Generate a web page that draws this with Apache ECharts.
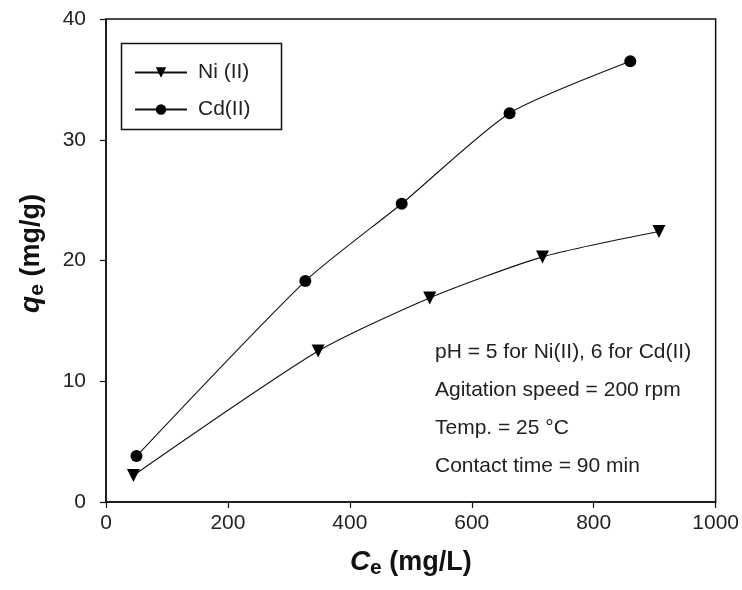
<!DOCTYPE html>
<html>
<head>
<meta charset="utf-8">
<script src="https://cdn.jsdelivr.net/npm/echarts@6/dist/echarts.min.js"></script>
<style>
  html, body { margin: 0; padding: 0; background: #fff; }
  #chart { width: 742px; height: 590px; }
</style>
</head>
<body>
<div id="chart"></div>
<script>
// Ni(II) isotherm points (Ce mg/L, qe mg/g)
var niCe = [45, 348, 531, 716, 907]
var niQe = [2.2, 12.5, 16.9, 20.3, 22.4]
// Cd(II) isotherm points
var cdCe = [50, 327, 485, 662, 860]
var cdQe = [3.8, 18.3, 24.7, 32.2, 36.5]

var xTicks = [0, 200, 400, 600, 800, 1000]
var yTicks = [0, 10, 20, 30, 40]

var notes = [
  'pH = 5 for Ni(II), 6 for Cd(II)',
  'Agitation speed = 200 rpm',
  'Temp. = 25 °C',
  'Contact time = 90 min',
]

function pairs(xs, ys) {
  return xs.map(function (x, i) {
    return [x, ys[i]]
  })
}

var FONT = '"Liberation Sans", Arial, sans-serif'
var chart = echarts.init(document.getElementById('chart'))

var nameRich = {
  it: { fontSize: 28, fontStyle: 'italic', fontWeight: 'bold', color: '#111', fontFamily: FONT },
  sub: { fontSize: 21, fontWeight: 'bold', color: '#111', fontFamily: FONT, padding: [12, 0, 0, 0] },
  b: { fontSize: 27, fontWeight: 'bold', color: '#111', fontFamily: FONT },
}

var option = {
  backgroundColor: '#fff',
  animation: false,
  textStyle: { fontFamily: FONT },
  grid: {
    left: 106,
    right: 22,
    top: 19,
    bottom: 88,
    show: true,
    borderColor: '#111',
    borderWidth: 1.5,
  },
  legend: {
    left: 129,
    top: 57,
    orient: 'vertical',
    itemWidth: 52,
    itemHeight: 13,
    itemGap: 16,
    textStyle: { fontSize: 21, color: '#222', fontFamily: FONT, padding: [0, 0, 0, 6] },
    data: ['Ni (II)', 'Cd(II)'],
  },
  xAxis: {
    type: 'value',
    min: 0,
    max: 1000,
    interval: 200,
    name: '{it|C}{sub|e}{b| (mg/L)}',
    nameLocation: 'middle',
    nameGap: 44,
    nameTextStyle: { rich: nameRich },
    axisLine: { lineStyle: { color: '#111', width: 1.5 } },
    axisTick: { inside: false, length: 6, lineStyle: { color: '#111', width: 1.2 } },
    axisLabel: {
      fontSize: 21,
      color: '#222',
      margin: 11,
      fontFamily: FONT,
      formatter: function (v) {
        return xTicks.indexOf(v) >= 0 ? String(v) : ''
      },
    },
    splitLine: { show: false },
  },
  yAxis: {
    type: 'value',
    min: 0,
    max: 40,
    interval: 10,
    name: '{it|q}{sub|e}{b| (mg/g)}',
    nameLocation: 'middle',
    nameGap: 58,
    nameTextStyle: { rich: nameRich, padding: [0, 0, 0, 14] },
    axisLine: { show: true, lineStyle: { color: '#111', width: 1.5 } },
    axisTick: { show: true, inside: false, length: 6, lineStyle: { color: '#111', width: 1.2 } },
    axisLabel: {
      fontSize: 21,
      color: '#222',
      margin: 20,
      fontFamily: FONT,
      formatter: function (v) {
        return yTicks.indexOf(v) >= 0 ? String(v) : ''
      },
    },
    splitLine: { show: false },
  },
  series: [
    {
      name: 'Ni (II)',
      type: 'line',
      data: pairs(niCe, niQe),
      smooth: 0.22,
      symbol: 'triangle',
      symbolRotate: 180,
      symbolSize: 13,
      itemStyle: { color: '#000' },
      lineStyle: { color: '#111', width: 1.1 },
    },
    {
      name: 'Cd(II)',
      type: 'line',
      data: pairs(cdCe, cdQe),
      smooth: 0.22,
      symbol: 'circle',
      symbolSize: 12,
      itemStyle: { color: '#000' },
      lineStyle: { color: '#111', width: 1.1 },
    },
  ],
  graphic: [
    {
      type: 'rect',
      left: 119,
      top: 41,
      shape: { width: 160, height: 86 },
      style: { fill: 'none', stroke: '#111', lineWidth: 1.5 },
      z: 10,
    },
  ].concat(
    notes.map(function (t, i) {
      return {
        type: 'text',
        x: 435,
        y: 352 + i * 38,
        style: { text: t, fontSize: 21, fill: '#222', fontFamily: FONT, verticalAlign: 'middle' },
        z: 10,
      }
    })
  ),
}

chart.setOption(option)
window.addEventListener('resize', function () {
  chart.resize()
})
</script>
</body>
</html>
